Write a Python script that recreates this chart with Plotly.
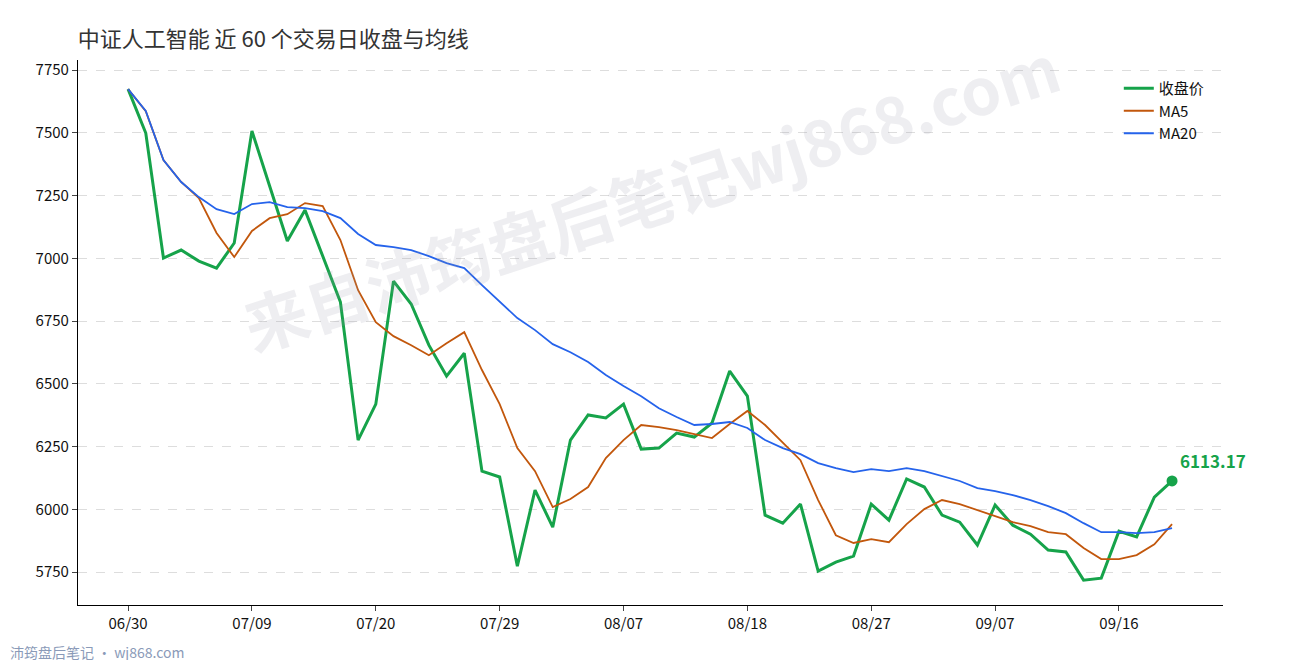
import plotly.graph_objects as go

tick_labels = ["06/30", "07/09", "07/20", "07/29", "08/07", "08/18", "08/27", "09/07", "09/16"]
tick_index = [0, 7, 14, 21, 28, 35, 42, 49, 56]

close = [7674, 7499, 7001, 7033, 6989, 6961, 7061, 7507, 7288, 7069,
         7192, 7005, 6826, 6276, 6419, 6909, 6818, 6654, 6531, 6622,
         6152, 6129, 5774, 6077, 5929, 6276, 6376, 6364, 6419, 6240,
         6244, 6304, 6288, 6344, 6551, 6451, 5977, 5945, 6021, 5754,
         5790, 5814, 6021, 5957, 6121, 6089, 5977, 5949, 5858, 6017,
         5937, 5901, 5838, 5830, 5718, 5726, 5913, 5890, 6049, 6113.17]
ma5 = [7674, 7586, 7391, 7304, 7240, 7101, 7005, 7109, 7160, 7176,
       7220, 7208, 7073, 6873, 6746, 6690, 6654, 6614, 6662, 6706,
       6555, 6419, 6244, 6152, 6009, 6041, 6089, 6204, 6276, 6336,
       6328, 6316, 6300, 6284, 6340, 6392, 6336, 6264, 6196, 6037,
       5897, 5866, 5881, 5869, 5941, 6001, 6037, 6021, 5997, 5973,
       5949, 5933, 5909, 5901, 5846, 5802, 5802, 5818, 5861, 5941]
ma20 = [7674, 7587, 7391, 7304, 7244, 7196, 7176, 7216, 7224, 7204,
        7200, 7188, 7160, 7097, 7053, 7045, 7033, 7009, 6981, 6961,
        6893, 6826, 6762, 6714, 6658, 6626, 6587, 6535, 6491, 6451,
        6403, 6368, 6336, 6340, 6348, 6324, 6276, 6244, 6220, 6184,
        6164, 6148, 6160, 6152, 6164, 6152, 6133, 6113, 6085, 6073,
        6057, 6037, 6013, 5985, 5945, 5909, 5909, 5905, 5909, 5925]

x = list(range(len(close)))
green = "#16a34a"

fig = go.Figure()
fig.add_trace(go.Scatter(x=x, y=close, mode="lines", name="收盘价", line=dict(color=green, width=3)))
fig.add_trace(go.Scatter(x=x, y=ma5, mode="lines", name="MA5", line=dict(color="#c2570c", width=1.8)))
fig.add_trace(go.Scatter(x=x, y=ma20, mode="lines", name="MA20", line=dict(color="#2563eb", width=1.8)))
fig.add_trace(go.Scatter(x=[x[-1]], y=[close[-1]], mode="markers", showlegend=False,
                         marker=dict(color=green, size=11)))

fig.add_annotation(x=x[-1], y=close[-1], text=f"<b>{close[-1]:.2f}</b>", showarrow=False,
                   xanchor="left", yanchor="bottom", xshift=6, yshift=6,
                   font=dict(size=17, color=green))
# watermark
fig.add_annotation(x=0.5, y=1.08, xref="paper", yref="paper", text="<b>来自沛筠盘后笔记wj868.com</b>",
                   showarrow=False, textangle=-18, font=dict(size=64, color="rgba(150,150,170,0.16)"))
fig.add_annotation(x=-0.061, y=-0.108, xref="paper", yref="paper", text="沛筠盘后笔记 · wj868.com",
                   showarrow=False, xanchor="left", yanchor="bottom",
                   font=dict(size=14, color="#8a9ab8"))

fig.update_layout(
    width=1290, height=660,
    margin=dict(l=70, r=75, t=52, b=63),
    paper_bgcolor="white", plot_bgcolor="white",
    font=dict(family="Noto Sans CJK SC", size=15, color="#111"),
    title=dict(text="中证人工智能 近 60 个交易日收盘与均线", x=0.054, xanchor="left", y=0.965,
               font=dict(size=22, color="#333")),
    legend=dict(x=0.909, y=0.978, xanchor="left", yanchor="top", bgcolor="rgba(0,0,0,0)",
                font=dict(size=15)),
    showlegend=True,
)
fig.update_xaxes(range=[-2.83, 61.88], tickvals=tick_index, ticktext=tick_labels,
                 showline=True, linecolor="black", linewidth=1.2, ticks="outside",
                 ticklen=5, showgrid=False, zeroline=False)
fig.update_yaxes(range=[5619, 7790], tickvals=[5750, 6000, 6250, 6500, 6750, 7000, 7250, 7500, 7750],
                 showline=True, linecolor="black", linewidth=1.2, ticks="outside", ticklen=5,
                 showgrid=True, gridcolor="#ddd", griddash="dash", zeroline=False)

fig.write_html("out.html")
